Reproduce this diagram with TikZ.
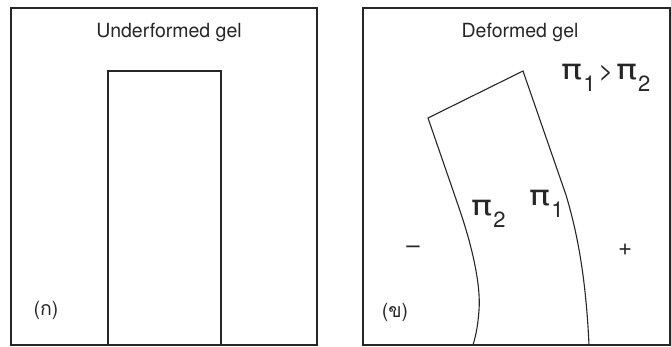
\documentclass[tikz,border=0pt]{standalone}
\usepackage{fontspec}
\setmainfont{TeX Gyre Heros}
\newfontfamily\thaifont[Script=Thai]{Loma}
\newfontfamily\pifont{DejaVu Sans}
\tikzset{
  frame/.style={draw=black!85, line width=1.4pt},
  gel/.style={draw=black!85, line width=1.1pt, line join=miter},
  lbl/.style={font=\fontsize{19.5}{22}\selectfont, text=black!85, inner sep=0pt},
  pilbl/.style={font=\fontsize{22}{24}\selectfont, text=black!85, inner sep=0pt},
  sign/.style={font=\fontsize{24}{26}\selectfont, text=black!85, inner sep=0pt},
}
\newcommand{\pisub}[1]{{\fontsize{28}{30}\pifont\selectfont\scalebox{1.25}[1]{π}}\kern1pt\raisebox{-12pt}{#1}}
\begin{document}
\begin{tikzpicture}[x=1pt,y=-1pt]
\useasboundingbox (0,0) rectangle (671,347);
% left panel
\draw[frame] (11,8) rectangle (317,345);
\draw[gel] (108,345) -- (108,71) -- (221,71) -- (221,345);
\node[lbl] (t1) at (169,32) {Underformed gel};
\node[lbl] (a) at (46,310) {({\thaifont ก})};
% right panel
\draw[frame] (363,8) rectangle (670,345);
\coordinate (tl) at (428,118);
\coordinate (tr) at (523,71);
\draw[gel] (473,345) .. controls (476,335) and (478,325) .. (479,310)
  .. controls (481,285) and (472,245) .. (458,205) -- (tl) -- (tr)
  -- (566,195) .. controls (578,235) and (586,280) .. (589,345);
\node[lbl] (t2) at (520,32) {Deformed gel};
\node[pilbl, anchor=base west] (ineq) at (561,80) {\pisub{1}\kern3pt{\fontsize{25}{27}\selectfont >}\kern3pt\pisub{2}};
\node[pilbl, anchor=base west] (p2) at (471,216) {\pisub{2}};
\node[pilbl, anchor=base west] (p1) at (529,206) {\pisub{1}};
\node[sign] (minus) at (413,250) {–};
\node[sign] (plus) at (625,250) {+};
\node[lbl] (b) at (395,312) {({\thaifont ข})};
\end{tikzpicture}
\end{document}
